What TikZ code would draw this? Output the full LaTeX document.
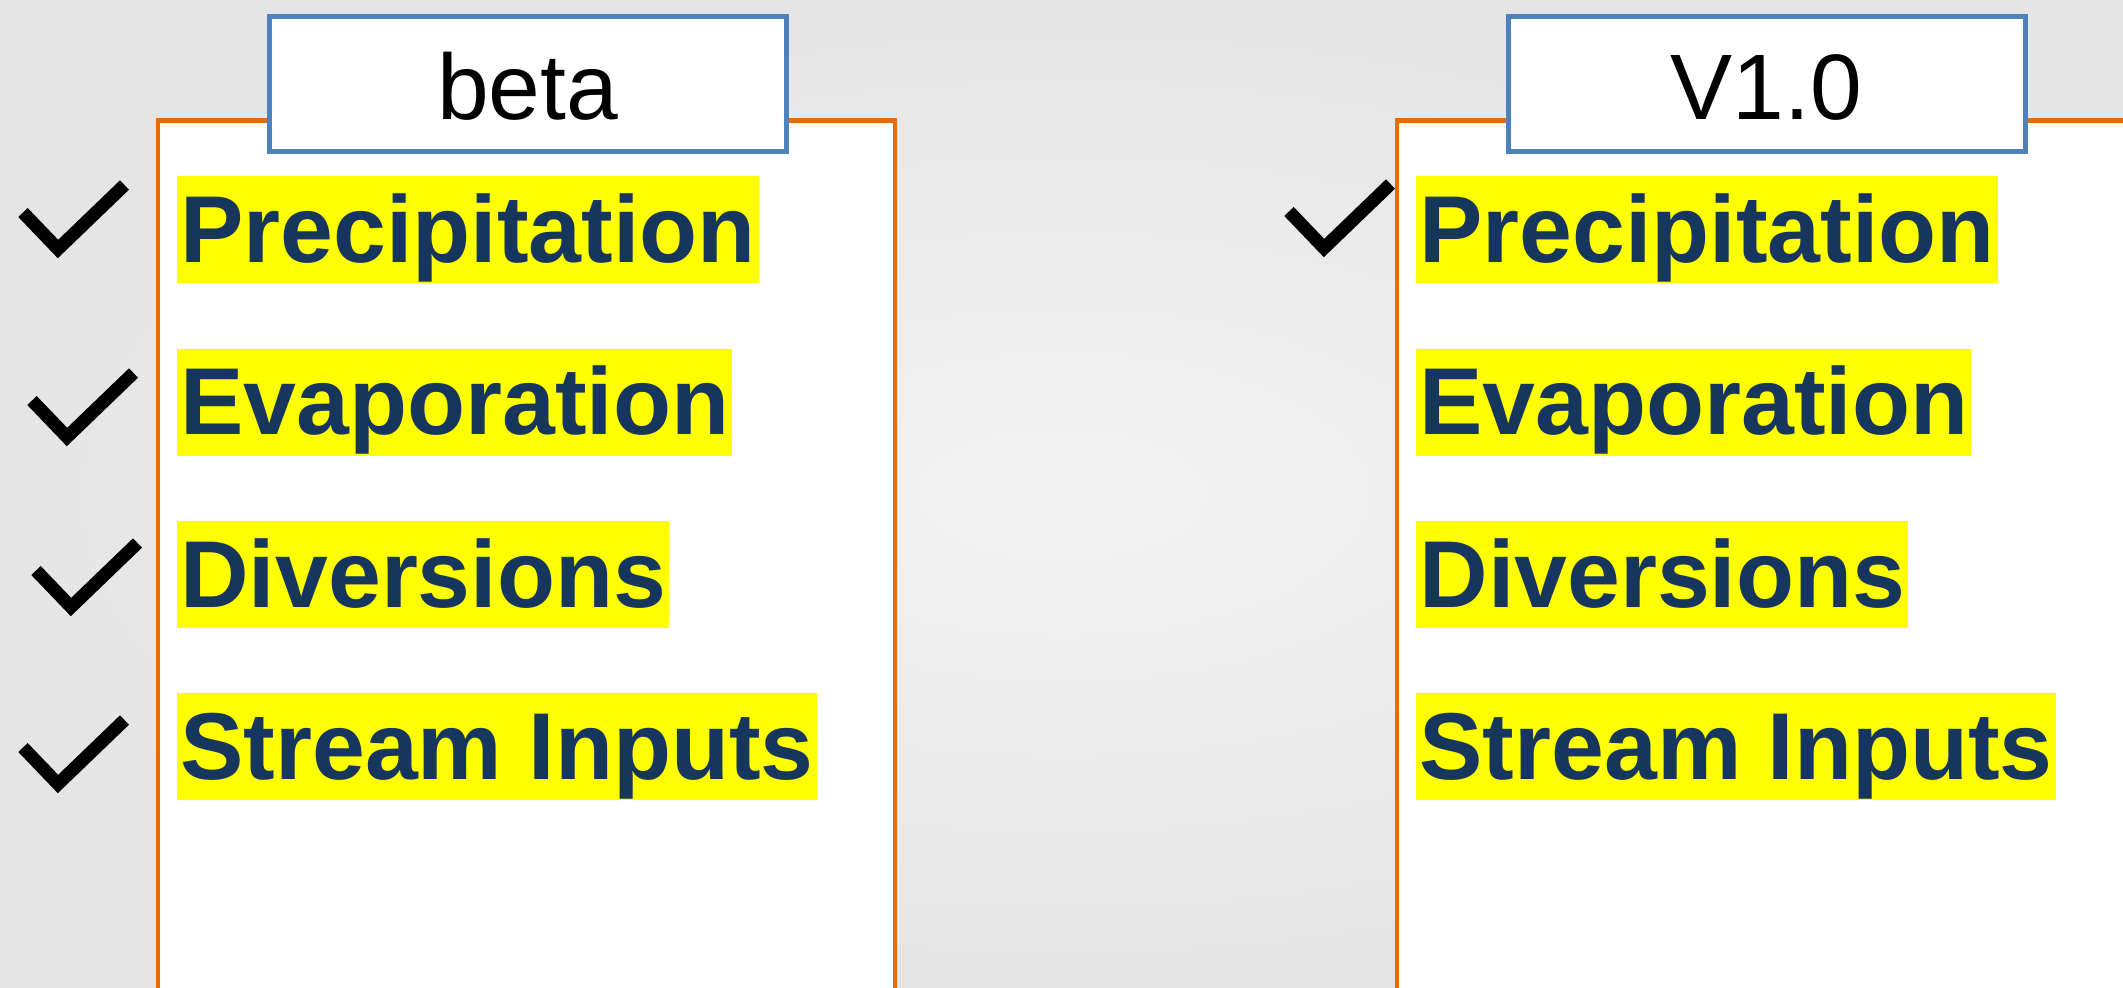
\documentclass[tikz,border=0pt]{standalone}
\usepackage{fontspec}
\newfontfamily\arialfont{Liberation Sans}

\definecolor{panelorange}{HTML}{E46C0A}
\definecolor{titleblue}{HTML}{4F81BD}
\definecolor{itemnavy}{HTML}{17365D}
\definecolor{hiyellow}{HTML}{FFFF00}

\begin{document}
\begin{tikzpicture}[x=0.5pt,y=-0.5pt,
    panel/.style={draw=panelorange,line width=2.25pt,fill=white},
    title/.style={draw=titleblue,line width=2.5pt,fill=white,inner sep=0pt,
      minimum width=258.5pt,text height=51.25pt,text depth=16.25pt,anchor=north,
      font=\arialfont\fontsize{46.5}{50}\selectfont},
    item/.style={fill=hiyellow,text=itemnavy,inner xsep=1.5pt,inner ysep=0pt,
      text height=43pt,text depth=10.5pt,anchor=north west,
      font=\arialfont\bfseries\fontsize{47.5}{50}\selectfont},
    tickmark/.style={line width=6.5pt,line join=miter,line cap=butt}]
  \useasboundingbox (0,0) rectangle (2123,988);
  \clip (0,0) rectangle (2123,988);
  \shade[inner color=gray!10,outer color=gray!20] (0,0) rectangle (2123,988);

  % the two release panels
  \draw[panel] (158,120.5) rectangle (895,1010);
  \draw[panel] (1397,120.5) rectangle (2150,1010);
  \node[title] (beta) at (527.5,14.5) {beta};
  \node[title] (vone) at (1766.5,14.5) {V1.0};

  \foreach \name [count=\i] in {Precipitation,Evaporation,Diversions,Stream Inputs} {
      \node[item] (beta\i) at (177,{176+(\i-1)*172.3}) {\name};
      \node[item] (vone\i) at (1416,{176+(\i-1)*172.3}) {\name};
  }

  % ticks: bottom corner given
  \foreach \vx/\vy in {58/249,67/437,71/607,58/784,1324/248} {
      \draw[tickmark] (\vx-35,\vy-36.5) -- (\vx,\vy) -- (\vx+66.5,\vy-64);
  }
\end{tikzpicture}
\end{document}
